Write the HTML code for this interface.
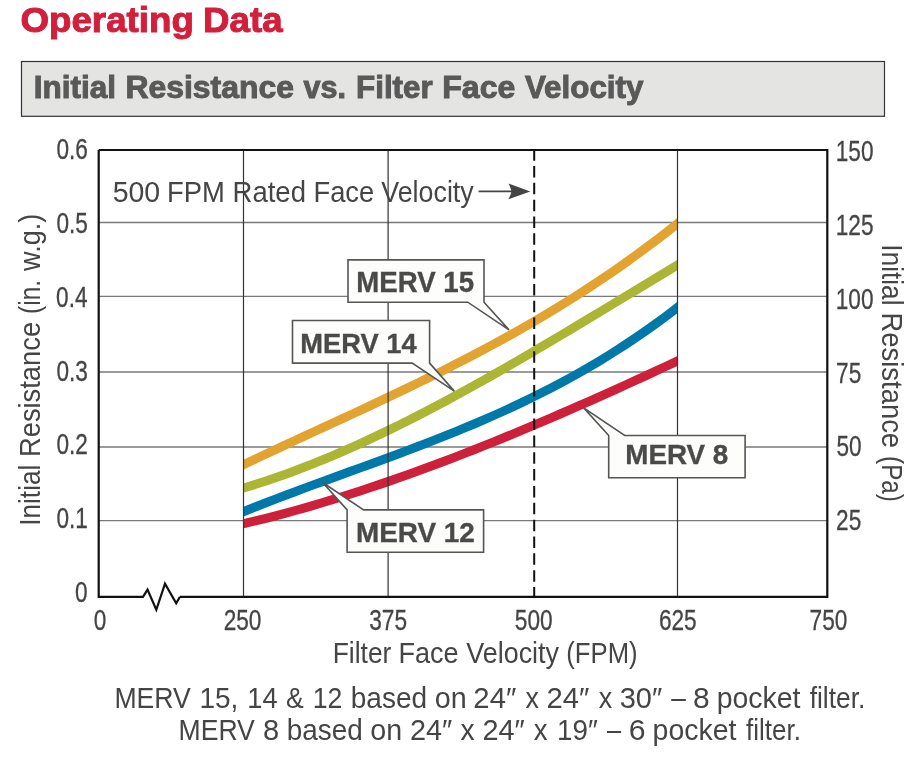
<!DOCTYPE html>
<html><head><meta charset="utf-8"><title>Operating Data</title>
<style>html,body{margin:0;padding:0;background:#fff;}svg{display:block;font-family:'Liberation Sans', Arial, sans-serif;}</style>
</head><body>
<svg width="912" height="784" viewBox="0 0 912 784">
<rect width="912" height="784" fill="#fff"/>
<text x="20.45" y="32.40" font-size="35.76" font-weight="bold" fill="#d21f3c" stroke="#d21f3c" stroke-width="1.0" textLength="173.40" lengthAdjust="spacingAndGlyphs">Operating</text>
<text x="203.11" y="32.40" font-size="35.76" font-weight="bold" fill="#d21f3c" stroke="#d21f3c" stroke-width="1.0" textLength="79.56" lengthAdjust="spacingAndGlyphs">Data</text>
<rect x="21.5" y="61.5" width="863.0" height="54.8" fill="#e4e4e3" stroke="#333" stroke-width="1.2"/>
<text x="33.78" y="98.30" font-size="31.83" font-weight="bold" fill="#595959" stroke="#595959" stroke-width="1.0" textLength="82.33" lengthAdjust="spacingAndGlyphs">Initial</text>
<text x="125.40" y="98.30" font-size="31.83" font-weight="bold" fill="#595959" stroke="#595959" stroke-width="1.0" textLength="168.64" lengthAdjust="spacingAndGlyphs">Resistance</text>
<text x="303.60" y="98.30" font-size="31.83" font-weight="bold" fill="#595959" stroke="#595959" stroke-width="1.0" textLength="42.45" lengthAdjust="spacingAndGlyphs">vs.</text>
<text x="356.04" y="98.30" font-size="31.83" font-weight="bold" fill="#595959" stroke="#595959" stroke-width="1.0" textLength="76.65" lengthAdjust="spacingAndGlyphs">Filter</text>
<text x="442.25" y="98.30" font-size="31.83" font-weight="bold" fill="#595959" stroke="#595959" stroke-width="1.0" textLength="73.05" lengthAdjust="spacingAndGlyphs">Face</text>
<text x="524.90" y="98.30" font-size="31.83" font-weight="bold" fill="#595959" stroke="#595959" stroke-width="1.0" textLength="118.60" lengthAdjust="spacingAndGlyphs">Velocity</text>
<line x1="98.7" y1="222.5" x2="827.3" y2="222.5" stroke="#7a7a7a" stroke-width="1.3"/>
<line x1="98.7" y1="296.3" x2="827.3" y2="296.3" stroke="#7a7a7a" stroke-width="1.3"/>
<line x1="98.7" y1="372.0" x2="827.3" y2="372.0" stroke="#7a7a7a" stroke-width="1.3"/>
<line x1="98.7" y1="447.0" x2="827.3" y2="447.0" stroke="#7a7a7a" stroke-width="1.3"/>
<line x1="98.7" y1="520.7" x2="827.3" y2="520.7" stroke="#7a7a7a" stroke-width="1.3"/>
<clipPath id="cc"><rect x="243.5" y="150" width="434.0" height="447"/></clipPath><g clip-path="url(#cc)">
<path d="M237.50,525.12 L246.99,522.91 L256.48,520.63 L265.97,518.27 L275.46,515.83 L284.95,513.32 L294.44,510.73 L303.93,508.07 L313.41,505.34 L322.90,502.54 L332.39,499.68 L341.88,496.74 L351.37,493.75 L360.86,490.68 L370.35,487.56 L379.84,484.37 L389.33,481.13 L398.82,477.82 L408.31,474.46 L417.80,471.04 L427.29,467.57 L436.78,464.04 L446.27,460.47 L455.76,456.84 L465.24,453.16 L474.73,449.44 L484.22,445.67 L493.71,441.85 L503.20,438.00 L512.69,434.09 L522.18,430.15 L531.67,426.17 L541.16,422.15 L550.65,418.09 L560.14,414.00 L569.63,409.88 L579.12,405.72 L588.61,401.53 L598.10,397.31 L607.59,393.06 L617.07,388.78 L626.56,384.48 L636.05,380.15 L645.54,375.80 L655.03,371.43 L664.52,367.04 L674.01,362.63 L683.50,358.20" fill="none" stroke="#cd203a" stroke-width="9" stroke-linejoin="round"/>
<path d="M237.50,514.14 L246.99,510.28 L256.48,506.50 L265.97,502.78 L275.46,499.11 L284.95,495.50 L294.44,491.93 L303.93,488.39 L313.41,484.89 L322.90,481.41 L332.39,477.95 L341.88,474.50 L351.37,471.05 L360.86,467.61 L370.35,464.15 L379.84,460.68 L389.33,457.19 L398.82,453.67 L408.31,450.12 L417.80,446.52 L427.29,442.88 L436.78,439.18 L446.27,435.42 L455.76,431.60 L465.24,427.70 L474.73,423.73 L484.22,419.66 L493.71,415.50 L503.20,411.25 L512.69,406.88 L522.18,402.41 L531.67,397.81 L541.16,393.09 L550.65,388.24 L560.14,383.25 L569.63,378.11 L579.12,372.83 L588.61,367.38 L598.10,361.77 L607.59,355.98 L617.07,350.02 L626.56,343.88 L636.05,337.54 L645.54,331.01 L655.03,324.27 L664.52,317.33 L674.01,310.16 L683.50,302.78" fill="none" stroke="#0079aa" stroke-width="9" stroke-linejoin="round"/>
<path d="M237.50,489.76 L246.99,486.97 L256.48,484.03 L265.97,480.96 L275.46,477.74 L284.95,474.40 L294.44,470.92 L303.93,467.32 L313.41,463.60 L322.90,459.76 L332.39,455.80 L341.88,451.74 L351.37,447.56 L360.86,443.28 L370.35,438.91 L379.84,434.43 L389.33,429.86 L398.82,425.20 L408.31,420.46 L417.80,415.63 L427.29,410.73 L436.78,405.74 L446.27,400.69 L455.76,395.57 L465.24,390.38 L474.73,385.14 L484.22,379.83 L493.71,374.47 L503.20,369.06 L512.69,363.61 L522.18,358.11 L531.67,352.57 L541.16,346.99 L550.65,341.38 L560.14,335.75 L569.63,330.08 L579.12,324.40 L588.61,318.70 L598.10,312.98 L607.59,307.25 L617.07,301.51 L626.56,295.77 L636.05,290.03 L645.54,284.30 L655.03,278.57 L664.52,272.85 L674.01,267.14 L683.50,261.45" fill="none" stroke="#aab634" stroke-width="9" stroke-linejoin="round"/>
<path d="M237.50,467.52 L246.99,463.00 L256.48,458.50 L265.97,454.04 L275.46,449.61 L284.95,445.19 L294.44,440.79 L303.93,436.40 L313.41,432.02 L322.90,427.64 L332.39,423.26 L341.88,418.88 L351.37,414.48 L360.86,410.06 L370.35,405.63 L379.84,401.17 L389.33,396.69 L398.82,392.17 L408.31,387.61 L417.80,383.01 L427.29,378.36 L436.78,373.67 L446.27,368.91 L455.76,364.10 L465.24,359.22 L474.73,354.27 L484.22,349.25 L493.71,344.15 L503.20,338.97 L512.69,333.70 L522.18,328.33 L531.67,322.88 L541.16,317.32 L550.65,311.65 L560.14,305.88 L569.63,299.99 L579.12,293.98 L588.61,287.85 L598.10,281.59 L607.59,275.20 L617.07,268.68 L626.56,262.01 L636.05,255.19 L645.54,248.23 L655.03,241.11 L664.52,233.83 L674.01,226.39 L683.50,218.78" fill="none" stroke="#e3a330" stroke-width="9" stroke-linejoin="round"/>
</g>
<line x1="243.5" y1="150" x2="243.5" y2="596.8" stroke="#333" stroke-width="1.2"/>
<line x1="388.1" y1="150" x2="388.1" y2="596.8" stroke="#333" stroke-width="1.2"/>
<line x1="677.5" y1="150" x2="677.5" y2="596.8" stroke="#333" stroke-width="1.2"/>
<path d="M98.7,150 L827.3,150 L827.3,596.8 L180,596.8" fill="none" stroke="#111" stroke-width="2.2"/>
<path d="M98.7,150 L98.7,596.8 L143,596.8 L147.5,589.6 L156.3,609.8 L165,583.6 L176.2,603.4 L180,596.8" fill="none" stroke="#111" stroke-width="2.2" stroke-linejoin="miter"/>
<line x1="534.2" y1="150" x2="534.2" y2="596.8" stroke="#111" stroke-width="2" stroke-dasharray="11.5 5.34" stroke-dashoffset="0.84"/>
<text x="112.71" y="201.60" font-size="28.65" font-weight="normal" fill="#454545" textLength="47.50" lengthAdjust="spacingAndGlyphs">500</text>
<text x="167.11" y="201.60" font-size="28.65" font-weight="normal" fill="#454545" textLength="57.84" lengthAdjust="spacingAndGlyphs">FPM</text>
<text x="232.60" y="201.60" font-size="28.65" font-weight="normal" fill="#454545" textLength="73.34" lengthAdjust="spacingAndGlyphs">Rated</text>
<text x="313.47" y="201.60" font-size="28.65" font-weight="normal" fill="#454545" textLength="60.74" lengthAdjust="spacingAndGlyphs">Face</text>
<text x="381.25" y="201.60" font-size="28.65" font-weight="normal" fill="#454545" textLength="92.50" lengthAdjust="spacingAndGlyphs">Velocity</text>
<line x1="478.6" y1="191.4" x2="522.3" y2="191.4" stroke="#454545" stroke-width="1.6"/>
<path d="M530.3,191.4 L508.50,183.60 Q511.30,189.40 511.30,191.4 Q511.30,193.40 508.50,199.20 Z" fill="#454545"/>
<path d="M348,259.9 L484.0,259.9 L484.0,302.2 L509,329.9 L467.7,302.2 L348,302.2 Z" fill="#fdfdfb" stroke="#555" stroke-width="1.6" stroke-linejoin="miter"/>
<text x="356.35" y="291.52" font-size="28.85" font-weight="bold" fill="#4a4a4a" stroke="#4a4a4a" stroke-width="0.35" textLength="117.77" lengthAdjust="spacingAndGlyphs">MERV 15</text>
<path d="M292.5,320.5 L429.6,320.5 L429.6,363.1 L454.3,391.1 L412.2,363.1 L292.5,363.1 Z" fill="#fdfdfb" stroke="#555" stroke-width="1.6" stroke-linejoin="miter"/>
<text x="300.37" y="353.22" font-size="28.12" font-weight="bold" fill="#4a4a4a" stroke="#4a4a4a" stroke-width="0.35" textLength="116.28" lengthAdjust="spacingAndGlyphs">MERV 14</text>
<path d="M347.1,509.9 L322.6,482.5 L363.6,509.9 L483.6,509.9 L483.6,552.2 L347.1,552.2 Z" fill="#fdfdfb" stroke="#555" stroke-width="1.6" stroke-linejoin="miter"/>
<text x="355.93" y="542.23" font-size="28.27" font-weight="bold" fill="#4a4a4a" stroke="#4a4a4a" stroke-width="0.35" textLength="118.89" lengthAdjust="spacingAndGlyphs">MERV 12</text>
<path d="M608.7,435.5 L583.7,407.9 L624.7,435.5 L745.1,435.5 L745.1,477.8 L608.7,477.8 Z" fill="#fdfdfb" stroke="#555" stroke-width="1.6" stroke-linejoin="miter"/>
<text x="625.34" y="463.62" font-size="28.27" font-weight="bold" fill="#4a4a4a" stroke="#4a4a4a" stroke-width="0.35" textLength="102.98" lengthAdjust="spacingAndGlyphs">MERV 8</text>
<text x="56.42" y="158.98" font-size="29.00" fill="#454545" stroke="#454545" stroke-width="0.3" textLength="31.44" lengthAdjust="spacingAndGlyphs">0.6</text>
<text x="56.42" y="232.98" font-size="29.00" fill="#454545" stroke="#454545" stroke-width="0.3" textLength="31.44" lengthAdjust="spacingAndGlyphs">0.5</text>
<text x="56.07" y="306.98" font-size="29.00" fill="#454545" stroke="#454545" stroke-width="0.3" textLength="31.44" lengthAdjust="spacingAndGlyphs">0.4</text>
<text x="56.42" y="380.78" font-size="29.00" fill="#454545" stroke="#454545" stroke-width="0.3" textLength="31.44" lengthAdjust="spacingAndGlyphs">0.3</text>
<text x="56.42" y="454.48" font-size="29.00" fill="#454545" stroke="#454545" stroke-width="0.3" textLength="31.44" lengthAdjust="spacingAndGlyphs">0.2</text>
<text x="56.42" y="527.98" font-size="29.00" fill="#454545" stroke="#454545" stroke-width="0.3" textLength="31.44" lengthAdjust="spacingAndGlyphs">0.1</text>
<text x="74.93" y="602.28" font-size="29.00" fill="#454545" stroke="#454545" stroke-width="0.3" textLength="12.58" lengthAdjust="spacingAndGlyphs">0</text>
<text x="835.74" y="160.98" font-size="29.00" fill="#454545" stroke="#454545" stroke-width="0.3" textLength="37.74" lengthAdjust="spacingAndGlyphs">150</text>
<text x="835.74" y="234.98" font-size="29.00" fill="#454545" stroke="#454545" stroke-width="0.3" textLength="37.74" lengthAdjust="spacingAndGlyphs">125</text>
<text x="835.74" y="309.48" font-size="29.00" fill="#454545" stroke="#454545" stroke-width="0.3" textLength="37.74" lengthAdjust="spacingAndGlyphs">100</text>
<text x="836.09" y="383.28" font-size="29.00" fill="#454545" stroke="#454545" stroke-width="0.3" textLength="25.16" lengthAdjust="spacingAndGlyphs">75</text>
<text x="836.44" y="455.98" font-size="29.00" fill="#454545" stroke="#454545" stroke-width="0.3" textLength="25.16" lengthAdjust="spacingAndGlyphs">50</text>
<text x="836.09" y="530.18" font-size="29.00" fill="#454545" stroke="#454545" stroke-width="0.3" textLength="25.16" lengthAdjust="spacingAndGlyphs">25</text>
<text x="93.84" y="629.98" font-size="29.00" fill="#454545" stroke="#454545" stroke-width="0.3" textLength="12.58" lengthAdjust="spacingAndGlyphs">0</text>
<text x="223.68" y="629.98" font-size="29.00" fill="#454545" stroke="#454545" stroke-width="0.3" textLength="37.74" lengthAdjust="spacingAndGlyphs">250</text>
<text x="369.23" y="629.98" font-size="29.00" fill="#454545" stroke="#454545" stroke-width="0.3" textLength="37.74" lengthAdjust="spacingAndGlyphs">375</text>
<text x="514.86" y="629.98" font-size="29.00" fill="#454545" stroke="#454545" stroke-width="0.3" textLength="37.74" lengthAdjust="spacingAndGlyphs">500</text>
<text x="658.96" y="629.98" font-size="29.00" fill="#454545" stroke="#454545" stroke-width="0.3" textLength="37.74" lengthAdjust="spacingAndGlyphs">625</text>
<text x="809.58" y="629.98" font-size="29.00" fill="#454545" stroke="#454545" stroke-width="0.3" textLength="37.74" lengthAdjust="spacingAndGlyphs">750</text>
<text x="332.69" y="662.75" font-size="29.58" font-weight="normal" fill="#454545" textLength="58.69" lengthAdjust="spacingAndGlyphs">Filter</text>
<text x="398.49" y="662.75" font-size="29.58" font-weight="normal" fill="#454545" textLength="60.11" lengthAdjust="spacingAndGlyphs">Face</text>
<text x="466.25" y="662.75" font-size="29.58" font-weight="normal" fill="#454545" textLength="92.75" lengthAdjust="spacingAndGlyphs">Velocity</text>
<text x="566.30" y="662.75" font-size="29.58" font-weight="normal" fill="#454545" textLength="71.28" lengthAdjust="spacingAndGlyphs">(FPM)</text>
<g transform="translate(40.1,523.75) rotate(-90)"><text x="-2.05" y="0.00" font-size="29.65" font-weight="normal" fill="#454545" textLength="61.17" lengthAdjust="spacingAndGlyphs">Initial</text><text x="66.72" y="0.00" font-size="29.65" font-weight="normal" fill="#454545" textLength="135.14" lengthAdjust="spacingAndGlyphs">Resistance</text><text x="209.86" y="0.00" font-size="29.65" font-weight="normal" fill="#454545" textLength="33.90" lengthAdjust="spacingAndGlyphs">(in.</text><text x="252.87" y="0.00" font-size="29.65" font-weight="normal" fill="#454545" textLength="57.08" lengthAdjust="spacingAndGlyphs">w.g.)</text></g>
<g transform="translate(882.3,246.4) rotate(90)"><text x="-2.05" y="0.00" font-size="29.65" font-weight="normal" fill="#454545" textLength="61.17" lengthAdjust="spacingAndGlyphs">Initial</text><text x="66.06" y="0.00" font-size="29.65" font-weight="normal" fill="#454545" textLength="135.65" lengthAdjust="spacingAndGlyphs">Resistance</text><text x="209.66" y="0.00" font-size="29.65" font-weight="normal" fill="#454545" textLength="45.79" lengthAdjust="spacingAndGlyphs">(Pa)</text></g>
<text x="114.42" y="707.75" font-size="29.07" font-weight="normal" fill="#454545" textLength="76.45" lengthAdjust="spacingAndGlyphs">MERV</text>
<text x="199.50" y="707.75" font-size="29.07" font-weight="normal" fill="#454545" textLength="38.83" lengthAdjust="spacingAndGlyphs">15,</text>
<text x="247.30" y="707.75" font-size="29.07" font-weight="normal" fill="#454545" textLength="30.28" lengthAdjust="spacingAndGlyphs">14</text>
<text x="286.07" y="707.75" font-size="29.07" font-weight="normal" fill="#454545" textLength="17.72" lengthAdjust="spacingAndGlyphs">&amp;</text>
<text x="312.74" y="707.75" font-size="29.07" font-weight="normal" fill="#454545" textLength="29.59" lengthAdjust="spacingAndGlyphs">12</text>
<text x="350.75" y="707.75" font-size="29.07" font-weight="normal" fill="#454545" textLength="76.43" lengthAdjust="spacingAndGlyphs">based</text>
<text x="434.70" y="707.75" font-size="29.07" font-weight="normal" fill="#454545" textLength="31.91" lengthAdjust="spacingAndGlyphs">on</text>
<text x="473.38" y="707.75" font-size="29.07" font-weight="normal" fill="#454545" textLength="42.92" lengthAdjust="spacingAndGlyphs">24″</text>
<text x="525.60" y="707.75" font-size="29.07" font-weight="normal" fill="#454545" textLength="13.40" lengthAdjust="spacingAndGlyphs">x</text>
<text x="546.38" y="707.75" font-size="29.07" font-weight="normal" fill="#454545" textLength="42.92" lengthAdjust="spacingAndGlyphs">24″</text>
<text x="598.75" y="707.75" font-size="29.07" font-weight="normal" fill="#454545" textLength="13.50" lengthAdjust="spacingAndGlyphs">x</text>
<text x="619.69" y="707.75" font-size="29.07" font-weight="normal" fill="#454545" textLength="42.50" lengthAdjust="spacingAndGlyphs">30″</text>
<text x="671.25" y="707.75" font-size="29.07" font-weight="normal" fill="#454545" textLength="14.58" lengthAdjust="spacingAndGlyphs">–</text>
<text x="693.06" y="707.75" font-size="29.07" font-weight="normal" fill="#454545" textLength="16.65" lengthAdjust="spacingAndGlyphs">8</text>
<text x="716.72" y="707.75" font-size="29.07" font-weight="normal" fill="#454545" textLength="83.78" lengthAdjust="spacingAndGlyphs">pocket</text>
<text x="809.70" y="707.75" font-size="29.07" font-weight="normal" fill="#454545" textLength="55.58" lengthAdjust="spacingAndGlyphs">filter.</text>
<text x="178.52" y="739.75" font-size="29.43" font-weight="normal" fill="#454545" textLength="76.35" lengthAdjust="spacingAndGlyphs">MERV</text>
<text x="263.09" y="739.75" font-size="29.43" font-weight="normal" fill="#454545" textLength="16.19" lengthAdjust="spacingAndGlyphs">8</text>
<text x="286.76" y="739.75" font-size="29.43" font-weight="normal" fill="#454545" textLength="76.06" lengthAdjust="spacingAndGlyphs">based</text>
<text x="370.36" y="739.75" font-size="29.43" font-weight="normal" fill="#454545" textLength="31.85" lengthAdjust="spacingAndGlyphs">on</text>
<text x="409.90" y="739.75" font-size="29.43" font-weight="normal" fill="#454545" textLength="42.30" lengthAdjust="spacingAndGlyphs">24″</text>
<text x="460.60" y="739.75" font-size="29.43" font-weight="normal" fill="#454545" textLength="14.15" lengthAdjust="spacingAndGlyphs">x</text>
<text x="482.40" y="739.75" font-size="29.43" font-weight="normal" fill="#454545" textLength="42.30" lengthAdjust="spacingAndGlyphs">24″</text>
<text x="533.75" y="739.75" font-size="29.43" font-weight="normal" fill="#454545" textLength="13.75" lengthAdjust="spacingAndGlyphs">x</text>
<text x="557.01" y="739.75" font-size="29.43" font-weight="normal" fill="#454545" textLength="40.77" lengthAdjust="spacingAndGlyphs">19″</text>
<text x="606.90" y="739.75" font-size="29.43" font-weight="normal" fill="#454545" textLength="14.19" lengthAdjust="spacingAndGlyphs">–</text>
<text x="628.84" y="739.75" font-size="29.43" font-weight="normal" fill="#454545" textLength="16.79" lengthAdjust="spacingAndGlyphs">6</text>
<text x="652.62" y="739.75" font-size="29.43" font-weight="normal" fill="#454545" textLength="83.78" lengthAdjust="spacingAndGlyphs">pocket</text>
<text x="746.00" y="739.75" font-size="29.43" font-weight="normal" fill="#454545" textLength="54.85" lengthAdjust="spacingAndGlyphs">filter.</text>
</svg>
</body></html>
